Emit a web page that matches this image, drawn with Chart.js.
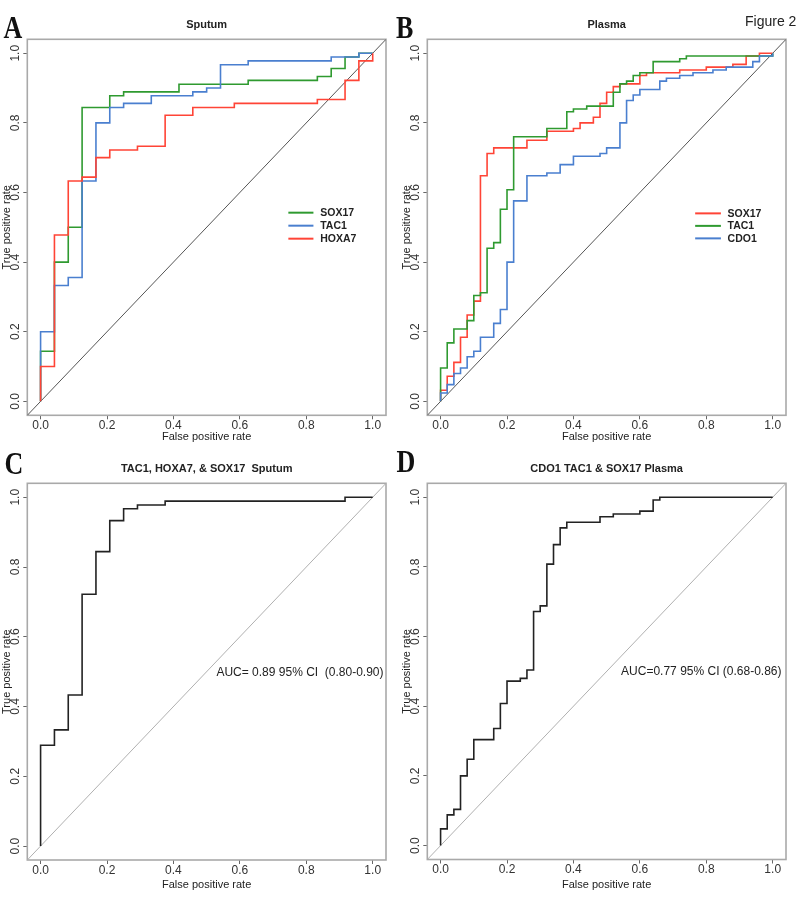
<!DOCTYPE html>
<html><head><meta charset="utf-8">
<script src="https://cdn.jsdelivr.net/npm/chart.js@4.4.1/dist/chart.umd.min.js"></script>
<style>
html,body{margin:0;padding:0;background:#fff;}
#wrap{position:relative;width:800px;height:905px;overflow:hidden;background:#fff;}
canvas{position:absolute;}
.letter{position:absolute;font-family:"Liberation Serif","Times New Roman",serif;font-weight:bold;font-size:26px;line-height:26px;transform:scaleY(1.2);transform-origin:0 0;color:#111;white-space:nowrap;}
#fig{position:absolute;left:745px;top:14px;font-family:"Liberation Sans",Arial,sans-serif;font-size:14px;line-height:14px;color:#222;white-space:nowrap;}
</style></head>
<body><div id="wrap">
<canvas id="cA" width="400" height="445" style="left:0;top:0"></canvas>
<canvas id="cB" width="400" height="445" style="left:400px;top:0"></canvas>
<canvas id="cC" width="400" height="460" style="left:0;top:445px"></canvas>
<canvas id="cD" width="400" height="460" style="left:400px;top:445px"></canvas>
<div class="letter" style="left:3.5px;top:13px">A</div>
<div class="letter" style="left:396px;top:13px">B</div>
<div class="letter" style="left:4.5px;top:449px">C</div>
<div class="letter" style="left:396.5px;top:447px">D</div>
<div id="fig">Figure 2</div>
</div>
<script>
// ---------- data ----------
const tickVals = [0, 0.2, 0.4, 0.6, 0.8, 1.0];
const tickLabels = ['0.0', '0.2', '0.4', '0.6', '0.8', '1.0'];
const AXIS_MIN = -0.04, AXIS_MAX = 1.04;

// Panel A: Sputum (fpr at each step, tpr after the step)
const spSOX17_fpr = [0, 0.0417, 0.0833, 0.125, 0.2083, 0.25, 0.4167, 0.625, 0.8333, 0.875, 0.9167, 0.9583];
const spSOX17_tpr = [0.144, 0.4, 0.5, 0.844, 0.878, 0.889, 0.911, 0.922, 0.933, 0.956, 0.989, 1];
const spTAC1_fpr = [0, 0.0417, 0.0833, 0.125, 0.1667, 0.2083, 0.25, 0.3333, 0.4583, 0.5, 0.5417, 0.625, 0.875, 0.9583];
const spTAC1_tpr = [0.2, 0.333, 0.356, 0.633, 0.8, 0.844, 0.856, 0.878, 0.889, 0.9, 0.967, 0.978, 0.989, 1];
const spHOXA7_fpr = [0, 0.0417, 0.0833, 0.125, 0.1667, 0.2083, 0.2917, 0.375, 0.4583, 0.5833, 0.8333, 0.9167, 0.9583, 1];
const spHOXA7_tpr = [0.1, 0.478, 0.633, 0.644, 0.7, 0.722, 0.733, 0.822, 0.844, 0.856, 0.867, 0.922, 0.978, 1];

// Panel B: Plasma
const plSOX17_fpr = [0, 0.02, 0.04, 0.06, 0.08, 0.10, 0.12, 0.14, 0.16, 0.26, 0.32, 0.40, 0.42, 0.46, 0.48, 0.50, 0.52, 0.54, 0.60, 0.62, 0.72, 0.80, 0.88, 0.92, 0.96];
const plSOX17_tpr = [0.032, 0.072, 0.112, 0.184, 0.248, 0.288, 0.648, 0.712, 0.728, 0.75, 0.776, 0.784, 0.80, 0.816, 0.856, 0.888, 0.904, 0.912, 0.936, 0.944, 0.952, 0.96, 0.968, 0.992, 1];
const plTAC1_fpr = [0, 0.02, 0.04, 0.08, 0.10, 0.12, 0.14, 0.16, 0.18, 0.20, 0.22, 0.32, 0.38, 0.40, 0.44, 0.52, 0.54, 0.56, 0.58, 0.60, 0.64, 0.72, 0.74];
const plTAC1_tpr = [0.096, 0.168, 0.208, 0.232, 0.304, 0.312, 0.44, 0.456, 0.552, 0.608, 0.76, 0.784, 0.832, 0.84, 0.848, 0.888, 0.912, 0.92, 0.936, 0.944, 0.976, 0.984, 0.992];
const plCDO1_fpr = [0, 0.02, 0.04, 0.06, 0.08, 0.10, 0.12, 0.16, 0.18, 0.20, 0.22, 0.26, 0.32, 0.36, 0.40, 0.48, 0.50, 0.54, 0.56, 0.58, 0.60, 0.66, 0.68, 0.72, 0.76, 0.82, 0.86, 0.94, 0.96, 1];
const plCDO1_tpr = [0.024, 0.048, 0.08, 0.096, 0.128, 0.144, 0.184, 0.224, 0.264, 0.40, 0.576, 0.648, 0.656, 0.68, 0.704, 0.712, 0.728, 0.80, 0.864, 0.88, 0.896, 0.92, 0.928, 0.936, 0.944, 0.952, 0.96, 0.976, 0.992, 1];

// Panel C: combined sputum panel
const cSp_fpr = [0, 0.0417, 0.0833, 0.125, 0.1667, 0.2083, 0.25, 0.2917, 0.375, 0.9167];
const cSp_tpr = [0.289, 0.333, 0.433, 0.722, 0.844, 0.933, 0.967, 0.978, 0.989, 1];

// Panel D: combined plasma panel
const cPl_fpr = [0, 0.02, 0.04, 0.06, 0.08, 0.10, 0.16, 0.18, 0.20, 0.24, 0.26, 0.28, 0.30, 0.32, 0.34, 0.36, 0.38, 0.48, 0.52, 0.60, 0.64, 0.66];
const cPl_tpr = [0.048, 0.088, 0.104, 0.2, 0.248, 0.304, 0.336, 0.408, 0.472, 0.48, 0.504, 0.672, 0.688, 0.808, 0.864, 0.912, 0.928, 0.944, 0.952, 0.96, 0.992, 1];

const aucSputum = 'AUC= 0.89 95% CI  (0.80-0.90)';
const aucPlasma = 'AUC=0.77 95% CI (0.68-0.86)';

// ---------- styling ----------
const FONT = "'Liberation Sans', Arial, Helvetica, sans-serif";
const GREEN = '#2f9a30', BLUE = '#4a7fcf', RED = '#ff4436', BLACK = '#222';

function staircase(fpr, tpr) {
  const pts = [{x: 0, y: 0}];
  let prev = 0;
  for (let i = 0; i < fpr.length; i++) {
    pts.push({x: fpr[i], y: prev});
    pts.push({x: fpr[i], y: tpr[i]});
    prev = tpr[i];
  }
  if (fpr[fpr.length - 1] < 1) pts.push({x: 1, y: prev});
  if (prev < 1) pts.push({x: 1, y: 1});
  return pts;
}

const framePlugin = {
  id: 'frame',
  beforeDatasetsDraw(chart) {
    const {ctx, chartArea: a} = chart;
    ctx.save();
    ctx.strokeStyle = '#a9a9a9';
    ctx.lineWidth = 1.6;
    ctx.strokeRect(a.left, a.top, a.right - a.left, a.bottom - a.top);
    ctx.restore();
  }
};

const legendPlugin = {
  id: 'stepLegend',
  afterDatasetsDraw(chart, args, o) {
    const {ctx, scales: {x, y}} = chart;
    const x0 = x.getPixelForValue(o.x0), x1 = x.getPixelForValue(o.x1), xt = x.getPixelForValue(o.xt);
    const y0 = y.getPixelForValue(o.y);
    ctx.save();
    ctx.font = 'bold 10.5px ' + FONT;
    ctx.textBaseline = 'middle';
    ctx.textAlign = 'left';
    o.items.forEach((it, i) => {
      const py = y0 + i * o.rowH;
      ctx.strokeStyle = it.color;
      ctx.lineWidth = 2;
      ctx.beginPath(); ctx.moveTo(x0, py); ctx.lineTo(x1, py); ctx.stroke();
      ctx.fillStyle = '#222';
      ctx.fillText(it.label, xt, py + 0.5);
    });
    ctx.restore();
  }
};

const notePlugin = {
  id: 'note',
  afterDatasetsDraw(chart, args, o) {
    const {ctx, scales: {x, y}} = chart;
    ctx.save();
    ctx.font = '12px ' + FONT;
    ctx.fillStyle = '#222';
    ctx.textAlign = 'center';
    ctx.textBaseline = 'middle';
    ctx.fillText(o.text, x.getPixelForValue(o.x), y.getPixelForValue(o.y));
    ctx.restore();
  }
};

function setTicks(scale) { scale.ticks = tickVals.map(v => ({value: v})); }

function makePanel(p) {
  const datasets = p.series.map((s, i) => ({
    label: s.label, data: staircase(s.fpr, s.tpr),
    borderColor: s.color, backgroundColor: s.color,
    showLine: true, pointRadius: 0, borderWidth: 1.6, tension: 0,
    order: p.series.length - i
  }));
  datasets.push({
    label: 'diagonal', data: [{x: AXIS_MIN, y: AXIS_MIN}, {x: AXIS_MAX, y: AXIS_MAX}],
    borderColor: p.diag, borderWidth: 1, showLine: true, pointRadius: 0, order: 99
  });
  const tickFont = {family: FONT, size: 12};
  const titleFont = {family: FONT, size: 11};
  new Chart(document.getElementById(p.id), {
    type: 'scatter',
    data: {datasets},
    options: {
      responsive: false, animation: false, events: [],
      layout: {padding: {right: 14}},
      plugins: {
        legend: {display: false}, tooltip: {enabled: false},
        title: {display: true, text: p.title, fullSize: false,
          font: {family: FONT, size: 11, weight: 'bold'}, color: '#222', padding: p.titlePad},
        frame: {},
        stepLegend: p.legend || false,
        note: p.note || false
      },
      scales: {
        x: {
          type: 'linear', min: AXIS_MIN, max: AXIS_MAX,
          afterBuildTicks: setTicks,
          afterFit: s => { s.height = p.xH; },
          ticks: {callback: (v, i) => tickLabels[i], font: tickFont, color: '#333', padding: -1,
            autoSkip: false, maxRotation: 0, minRotation: 0},
          grid: {drawOnChartArea: false, drawTicks: true, tickLength: 4, tickColor: '#666', lineWidth: 1},
          border: {display: false},
          title: {display: true, text: 'False positive rate', font: titleFont, color: '#222',
            padding: {top: 0, bottom: p.xTitleB}}
        },
        y: {
          type: 'linear', min: AXIS_MIN, max: AXIS_MAX,
          afterBuildTicks: setTicks,
          afterFit: s => { s.width = 27.3; },
          ticks: {callback: (v, i) => tickLabels[i], font: tickFont, color: '#333', padding: -1,
            autoSkip: false, minRotation: 90, maxRotation: 90, crossAlign: 'center'},
          grid: {drawOnChartArea: false, drawTicks: true, tickLength: 4, tickColor: '#666', lineWidth: 1},
          border: {display: false},
          title: {display: true, text: 'True positive rate', font: titleFont, color: '#222',
            padding: {top: 0, bottom: 0}}
        }
      }
    },
    plugins: [framePlugin, legendPlugin, notePlugin]
  });
}

makePanel({
  id: 'cA', title: 'Sputum', titlePad: {top: 18.4, bottom: 7.7}, xH: 29.7, xTitleB: 1.4, diag: '#555',
  series: [
    {label: 'SOX17', fpr: spSOX17_fpr, tpr: spSOX17_tpr, color: GREEN},
    {label: 'TAC1', fpr: spTAC1_fpr, tpr: spTAC1_tpr, color: BLUE},
    {label: 'HOXA7', fpr: spHOXA7_fpr, tpr: spHOXA7_tpr, color: RED}
  ],
  legend: {x0: 0.746, x1: 0.8215, xt: 0.842, y: 0.542, rowH: 13,
    items: [{label: 'SOX17', color: GREEN}, {label: 'TAC1', color: BLUE}, {label: 'HOXA7', color: RED}]}
});
makePanel({
  id: 'cB', title: 'Plasma', titlePad: {top: 18.4, bottom: 7.7}, xH: 29.7, xTitleB: 1.4, diag: '#555',
  series: [
    {label: 'SOX17', fpr: plSOX17_fpr, tpr: plSOX17_tpr, color: RED},
    {label: 'TAC1', fpr: plTAC1_fpr, tpr: plTAC1_tpr, color: GREEN},
    {label: 'CDO1', fpr: plCDO1_fpr, tpr: plCDO1_tpr, color: BLUE}
  ],
  legend: {x0: 0.7665, x1: 0.844, xt: 0.864, y: 0.540, rowH: 12.5,
    items: [{label: 'SOX17', color: RED}, {label: 'TAC1', color: GREEN}, {label: 'CDO1', color: BLUE}]}
});
makePanel({
  id: 'cC', title: 'TAC1, HOXA7, & SOX17  Sputum', titlePad: {top: 17.7, bottom: 7.4}, xH: 45, xTitleB: 13.4, diag: '#b0b0b0',
  series: [{label: 'TAC1, HOXA7, & SOX17', fpr: cSp_fpr, tpr: cSp_tpr, color: BLACK}],
  note: {text: aucSputum, x: 0.781, y: 0.498}
});
makePanel({
  id: 'cD', title: 'CDO1 TAC1 & SOX17 Plasma', titlePad: {top: 17.7, bottom: 7.4}, xH: 45.5, xTitleB: 13.9, diag: '#b0b0b0',
  series: [{label: 'CDO1 TAC1 & SOX17', fpr: cPl_fpr, tpr: cPl_tpr, color: BLACK}],
  note: {text: aucPlasma, x: 0.785, y: 0.5}
});
</script>
</body></html>
